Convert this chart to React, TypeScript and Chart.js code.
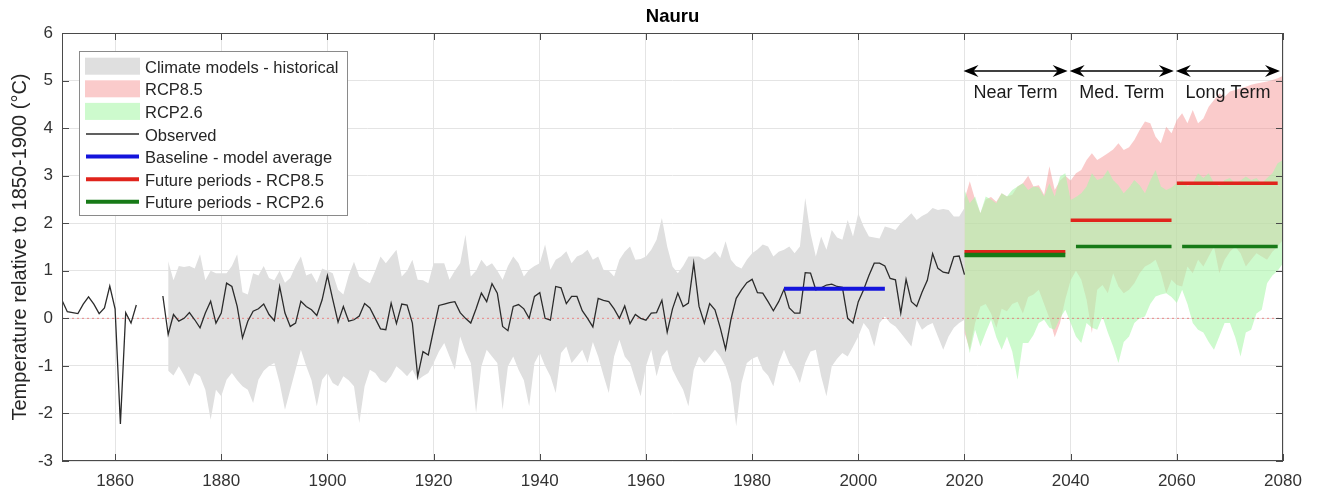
import React, { useEffect, useRef } from "react";
import { Chart, registerables } from "chart.js";

Chart.register(...registerables);

const FONT = '"Liberation Sans", Arial, Helvetica, sans-serif';

// ---------- DATA ----------
const chartTitle = "Nauru";
const yAxisTitle = "Temperature relative to 1850-1900 (°C)";
const xTickValues = [1860, 1880, 1900, 1920, 1940, 1960, 1980, 2000, 2020, 2040, 2060, 2080];
const yTickValues = [-3, -2, -1, 0, 1, 2, 3, 4, 5, 6];

const observedStart = 1850;
const observed = [
  0.38, 0.14, 0.12, 0.10, 0.30, 0.45, 0.30, 0.10, 0.22, 0.68,
  0.20, -2.22, 0.12, -0.10, 0.28, null, null, null, null, 0.47,
  -0.34, 0.08, -0.06, 0.00, 0.12, -0.03, -0.20, 0.11, 0.36, -0.10,
  0.11, 0.74, 0.67, 0.25, -0.41, -0.06, 0.15, 0.20, 0.30, 0.08,
  -0.05, 0.67, 0.11, -0.17, -0.10, 0.36, 0.25, 0.18, 0.06, 0.39,
  0.90, 0.40, -0.08, 0.25, -0.06, -0.03, 0.05, 0.31, 0.22, 0.00,
  -0.22, -0.24, 0.32, -0.11, 0.30, 0.28, -0.10, -1.22, -0.70, -0.77,
  -0.24, 0.27, 0.30, 0.33, 0.35, 0.12, 0.00, -0.10, 0.20, 0.53,
  0.35, 0.73, 0.53, -0.17, -0.26, 0.25, 0.29, 0.20, 0.00, 0.46,
  0.54, 0.00, -0.04, 0.67, 0.64, 0.31, 0.46, 0.46, 0.16, 0.00,
  -0.18, 0.42, 0.38, 0.35, 0.20, 0.00, 0.26, -0.11, 0.08, 0.00,
  -0.04, 0.11, 0.12, 0.38, -0.29, 0.20, 0.53, 0.25, 0.32, 1.16,
  0.25, -0.10, 0.31, 0.18, -0.20, -0.65, -0.03, 0.42, 0.60, 0.75,
  0.82, 0.54, 0.53, 0.35, 0.16, 0.35, 0.61, 0.22, 0.11, 0.11,
  0.96, 0.95, 0.60, 0.64, 0.70, 0.72, 0.67, 0.65, 0.00, -0.10,
  0.35, 0.60, 0.90, 1.16, 1.16, 1.10, 0.84, 0.81, 0.11, 0.82,
  0.35, 0.25, 0.55, 0.80, 1.36, 1.05, 0.97, 0.95, 1.30, 1.31,
  0.92,
];

const histStart = 1870;
const histUpper = [
  1.20, 0.80, 1.10, 1.08, 1.10, 1.05, 1.35, 0.80, 1.00, 0.95,
  0.95, 0.95, 1.10, 1.35, 0.55, 0.50, 0.95, 0.90, 1.10, 0.85,
  0.80, 1.00, 0.75, 0.85, 1.10, 1.30, 0.90, 0.95, 0.75, 1.05,
  1.00, 0.95, 0.60, 0.50, 0.90, 1.19, 0.88, 0.80, 0.74, 1.00,
  1.30, 1.16, 1.30, 1.44, 0.88, 1.00, 1.23, 0.81, 0.80, 0.74,
  1.16, 1.16, 1.16, 0.81, 1.00, 1.16, 1.76, 0.88, 1.00, 1.23,
  1.09, 1.16, 1.00, 0.81, 1.10, 1.30, 1.16, 0.88, 1.02, 1.10,
  1.16, 1.55, 1.02, 1.23, 1.30, 1.41, 1.16, 1.30, 1.35, 1.44,
  1.23, 1.30, 1.02, 1.00, 0.88, 1.23, 1.40, 1.51, 1.23, 1.25,
  1.30, 1.44, 1.65, 2.11, 1.51, 1.09, 0.95, 1.10, 1.30, 1.30,
  1.30, 1.23, 1.30, 1.41, 1.27, 1.62, 1.23, 1.10, 1.05, 1.23,
  1.37, 1.45, 1.55, 1.51, 1.30, 1.40, 1.44, 1.51, 1.37, 1.51,
  2.53, 1.79, 1.30, 1.72, 1.44, 1.86, 1.70, 1.65, 2.07, 1.72,
  2.21, 1.93, 1.72, 1.70, 1.68, 1.93, 1.90, 1.86, 2.00, 2.10,
  2.21, 2.07, 2.15, 2.21, 2.32, 2.28, 2.30, 2.28, 2.14, 2.14,
  2.32,
];
const histLower = [
  -1.10, -1.20, -1.01, -1.20, -1.43, -1.15, -1.22, -1.50, -2.13, -1.50,
  -1.64, -1.29, -1.15, -1.30, -1.43, -1.50, -1.78, -1.29, -1.10, -1.00,
  -0.94, -1.36, -1.92, -1.50, -1.08, -0.66, -1.00, -1.30, -1.85, -1.29,
  -1.15, -1.36, -1.43, -1.22, -1.30, -1.43, -2.20, -1.43, -1.08, -1.15,
  -1.30, -1.36, -1.22, -1.01, -1.10, -1.22, -1.08, -1.30, -1.22, -1.15,
  -0.94, -0.70, -0.52, -0.80, -1.08, -0.38, -0.70, -0.94, -1.99, -1.01,
  -0.66, -0.80, -0.94, -1.92, -1.01, -0.80, -1.08, -1.30, -1.85, -0.94,
  -0.73, -1.00, -1.22, -1.57, -0.73, -0.59, -0.94, -0.80, -0.66, -0.94,
  -0.50, -0.80, -1.20, -1.57, -0.80, -0.45, -0.80, -0.94, -1.30, -1.64,
  -1.01, -0.66, -1.22, -0.80, -0.66, -1.08, -1.30, -1.50, -1.85, -1.08,
  -0.80, -0.94, -0.80, -0.66, -0.80, -1.01, -1.36, -2.27, -1.36, -0.94,
  -0.85, -0.80, -1.08, -1.20, -1.43, -0.94, -0.66, -0.94, -1.10, -1.36,
  -0.94, -0.70, -0.66, -1.22, -1.64, -1.01, -0.85, -0.73, -0.80, -0.60,
  -0.38, -0.10, -0.24, -0.59, -0.10, 0.04, -0.10, -0.17, -0.31, -0.45,
  -0.59, -0.03, -0.24, -0.15, -0.10, -0.38, -0.66, -0.38, -0.20, -0.10,
  -0.03,
];

const futureStart = 2020;
const rcp85Upper = [
  2.50, 2.88, 2.50, 2.21, 2.50, 2.55, 2.45, 2.63, 2.56, 2.60,
  2.77, 2.84, 3.00, 2.77, 2.80, 2.60, 3.20, 2.70, 2.90, 3.00,
  2.90, 3.05, 3.12, 3.33, 3.47, 3.33, 3.40, 3.47, 3.55, 3.68,
  3.54, 3.60, 3.75, 3.96, 4.14, 4.10, 3.82, 3.68, 4.03, 3.89,
  4.17, 4.31, 4.10, 4.38, 4.10, 4.20, 4.45, 4.59, 4.73, 4.66,
  4.77, 4.80, 4.84, 4.87, 4.91, 4.94, 4.96, 4.98, 5.01, 5.05,
  5.10,
];
const rcp85Lower = [
  -0.30, -0.66, -0.10, 0.25, 0.30, 0.10, -0.20, 0.20, 0.15, 0.30,
  0.35, 0.10, 0.45, 0.50, 0.60, 0.30, 0.00, -0.40, -0.10, 0.40,
  0.80, 1.00, 0.81, 0.39, -0.31, 0.60, 0.70, 0.53, 0.95, 0.67,
  0.53, 0.60, 0.74, 0.95, 1.09, 1.15, 1.23, 0.95, 0.53, 0.81,
  0.70, 0.67, 1.09, 0.95, 1.23, 1.09, 1.30, 1.51, 0.95, 1.23,
  1.40, 1.51, 1.37, 1.09, 1.23, 1.37, 1.30, 1.23, 1.40, 1.51,
  1.65,
];
const rcp26Upper = [
  2.70, 2.42, 2.56, 2.21, 2.56, 2.50, 2.42, 2.63, 2.56, 2.70,
  2.77, 2.84, 2.70, 2.77, 2.75, 2.56, 2.84, 2.56, 2.98, 3.05,
  2.49, 2.55, 2.63, 2.77, 3.05, 2.91, 2.95, 3.12, 2.91, 2.80,
  2.63, 2.75, 2.91, 2.80, 2.63, 2.90, 3.12, 2.77, 2.70, 2.75,
  2.85, 2.91, 2.77, 2.84, 3.05, 2.95, 3.05, 2.85, 2.77, 2.91,
  2.95, 2.84, 2.90, 2.98, 2.91, 2.95, 2.84, 2.95, 3.05, 3.26,
  3.33,
];
const rcp26Lower = [
  -0.20, -0.73, -0.24, -0.59, -0.30, -0.03, -0.40, -0.66, -0.38, -0.70,
  -1.29, -0.52, -0.52, -0.35, -0.10, -0.03, -0.20, -0.24, 0.00, 0.18,
  -0.10, -0.38, -0.52, -0.10, -0.20, -0.24, 0.04, -0.30, -0.59, -0.94,
  -0.50, -0.38, -0.10, 0.00, 0.04, 0.30, 0.46, 0.50, 0.53, 0.45,
  0.32, 0.60, 0.30, -0.10, -0.24, -0.30, -0.50, -0.66, -0.38, -0.10,
  -0.10, -0.40, -0.80, -0.30, -0.24, 0.10, 0.18, 0.74, 0.90, 1.00,
  1.16,
];

const baselineStart = 1986;
const baselineEnd = 2005;
const baselineValue = 0.62;

const rcp85PeriodStarts = [2020, 2040, 2060];
const rcp85PeriodEnds = [2039, 2059, 2079];
const rcp85PeriodMeans = [1.4, 2.06, 2.84];
const rcp26PeriodStarts = [2020, 2041, 2061];
const rcp26PeriodEnds = [2039, 2059, 2079];
const rcp26PeriodMeans = [1.33, 1.51, 1.51];

const termLabels = ["Near Term", "Med. Term", "Long Term"];
const termBounds = [2020, 2040, 2060, 2080];
const termArrowValue = 5.2;

const legendLabels = [
  "Climate models - historical",
  "RCP8.5",
  "RCP2.6",
  "Observed",
  "Baseline - model average",
  "Future periods - RCP8.5",
  "Future periods - RCP2.6",
];

// ---------- STYLES ----------
const GRAY = "rgb(223,223,223)";
const PINK = "rgba(245,140,140,0.45)";
const GREEN = "rgba(172,247,172,0.6)";
const OBS = "#2b2b2b";
const BLUE = "#1414dc";
const RED = "#e0241c";
const DGREEN = "#177a17";

const toPoints = (start: number, vals: (number | null)[]) =>
  vals.map((v, i) => ({ x: start + i, y: v }));

const legendStyles = [
  { type: "patch", color: GRAY },
  { type: "patch", color: PINK },
  { type: "patch", color: GREEN },
  { type: "line", color: OBS, width: 1.4 },
  { type: "line", color: BLUE, width: 4 },
  { type: "line", color: RED, width: 4 },
  { type: "line", color: DGREEN, width: 4 },
];

const overlayPlugin = {
  id: "overlay",
  afterDraw(chart: any) {
    const ctx = chart.ctx as CanvasRenderingContext2D;
    const a = chart.chartArea;
    const xs = chart.scales.x;
    const ys = chart.scales.y;
    const line = (x1: number, y1: number, x2: number, y2: number) => {
      ctx.beginPath();
      ctx.moveTo(x1, y1);
      ctx.lineTo(x2, y2);
      ctx.stroke();
    };
    ctx.save();

    // frame and inner ticks
    ctx.strokeStyle = "#4a4a4a";
    ctx.lineWidth = 1;
    ctx.strokeRect(a.left + 0.5, a.top + 0.5, a.right - a.left - 1, a.bottom - a.top - 1);
    for (const t of xTickValues) {
      const px = Math.round(xs.getPixelForValue(t)) + 0.5;
      line(px, a.bottom, px, a.bottom - 7);
      line(px, a.top, px, a.top + 7);
    }
    for (const t of yTickValues) {
      const py = Math.round(ys.getPixelForValue(t)) + 0.5;
      line(a.left, py, a.left + 7, py);
      line(a.right, py, a.right - 7, py);
    }

    // term arrows and labels
    const ay = ys.getPixelForValue(termArrowValue);
    ctx.strokeStyle = "#000";
    ctx.fillStyle = "#000";
    ctx.lineWidth = 1.5;
    const head = (tipX: number, dir: number) => {
      ctx.beginPath();
      ctx.moveTo(tipX, ay);
      ctx.lineTo(tipX + dir * 15, ay - 6);
      ctx.lineTo(tipX + dir * 10, ay);
      ctx.lineTo(tipX + dir * 15, ay + 6);
      ctx.closePath();
      ctx.fill();
    };
    for (let i = 0; i < termLabels.length; i++) {
      const x1 = xs.getPixelForValue(termBounds[i]) - 1;
      const x2 = Math.min(xs.getPixelForValue(termBounds[i + 1]) - 3, a.right);
      line(x1 + 6, ay, x2 - 6, ay);
      head(x1, 1);
      head(x2, -1);
      ctx.font = `18px ${FONT}`;
      ctx.textAlign = "center";
      ctx.textBaseline = "alphabetic";
      ctx.fillStyle = "#1a1a1a";
      ctx.fillText(termLabels[i], (x1 + x2) / 2, ay + 27);
      ctx.fillStyle = "#000";
    }

    // legend
    const L = { x: a.left + 17, y: a.top + 18, w: 268, h: 164 };
    ctx.fillStyle = "#fff";
    ctx.fillRect(L.x, L.y, L.w, L.h);
    ctx.strokeStyle = "#8a8a8a";
    ctx.lineWidth = 1;
    ctx.strokeRect(L.x + 0.5, L.y + 0.5, L.w, L.h);
    legendLabels.forEach((label, i) => {
      const base = L.y + 21.7 + i * 22.6;
      const mid = base - 6.5;
      const st: any = legendStyles[i];
      if (st.type === "patch") {
        ctx.fillStyle = st.color;
        ctx.fillRect(L.x + 6, mid - 8.5, 55, 17);
      } else {
        ctx.strokeStyle = st.color;
        ctx.lineWidth = st.width;
        ctx.lineCap = "butt";
        line(L.x + 7, mid, L.x + 60, mid);
      }
      ctx.fillStyle = "#262626";
      ctx.font = `16.5px ${FONT}`;
      ctx.textAlign = "left";
      ctx.textBaseline = "alphabetic";
      ctx.fillText(label, L.x + 66, base);
    });

    // title
    ctx.fillStyle = "#000";
    ctx.font = `bold 18.5px ${FONT}`;
    ctx.textAlign = "center";
    ctx.textBaseline = "middle";
    ctx.fillText(chartTitle, (a.left + a.right) / 2, 17);

    // y axis title
    ctx.save();
    ctx.translate(20, (a.top + a.bottom) / 2);
    ctx.rotate(-Math.PI / 2);
    ctx.fillStyle = "#262626";
    ctx.font = `20px ${FONT}`;
    ctx.textAlign = "center";
    ctx.textBaseline = "middle";
    ctx.fillText(yAxisTitle, 0, 0);
    ctx.restore();

    ctx.restore();
  },
};

function buildConfig(): any {
  const base = { pointRadius: 0, pointHoverRadius: 0, tension: 0, borderCapStyle: "butt" };
  const datasets: any[] = [
    { ...base, label: "histUpper", data: toPoints(histStart, histUpper), borderWidth: 0, backgroundColor: GRAY, fill: "+1", order: 10 },
    { ...base, label: "histLower", data: toPoints(histStart, histLower), borderWidth: 0, fill: false, order: 10 },
    { ...base, label: "rcp85Upper", data: toPoints(futureStart, rcp85Upper), borderWidth: 0, backgroundColor: PINK, fill: "+1", order: 9 },
    { ...base, label: "rcp85Lower", data: toPoints(futureStart, rcp85Lower), borderWidth: 0, fill: false, order: 9 },
    { ...base, label: "rcp26Upper", data: toPoints(futureStart, rcp26Upper), borderWidth: 0, backgroundColor: GREEN, fill: "+1", order: 8 },
    { ...base, label: "rcp26Lower", data: toPoints(futureStart, rcp26Lower), borderWidth: 0, fill: false, order: 8 },
    { ...base, label: "zero", data: [{ x: 1850, y: 0 }, { x: 2080, y: 0 }], borderColor: "rgba(235,110,110,0.8)", borderWidth: 1, borderDash: [2, 3], fill: false, order: 7 },
    { ...base, label: "Observed", data: toPoints(observedStart, observed), borderColor: OBS, borderWidth: 1.3, fill: false, spanGaps: false, order: 5 },
    { ...base, label: "Baseline", data: [{ x: baselineStart, y: baselineValue }, { x: baselineEnd, y: baselineValue }], borderColor: BLUE, borderWidth: 4, fill: false, order: 3 },
  ];
  rcp85PeriodMeans.forEach((m, i) => {
    datasets.push({ ...base, label: "rcp85p" + i, data: [{ x: rcp85PeriodStarts[i], y: m }, { x: rcp85PeriodEnds[i], y: m }], borderColor: RED, borderWidth: 3.5, fill: false, order: 2 });
  });
  rcp26PeriodMeans.forEach((m, i) => {
    datasets.push({ ...base, label: "rcp26p" + i, data: [{ x: rcp26PeriodStarts[i], y: m }, { x: rcp26PeriodEnds[i], y: m }], borderColor: DGREEN, borderWidth: i === 0 ? 4.5 : 3.5, fill: false, order: 1 });
  });

  return {
    type: "line",
    data: { datasets },
    options: {
      animation: false,
      responsive: false,
      devicePixelRatio: 1,
      layout: { padding: { top: 33, right: 34, left: 0, bottom: 0 } },
      plugins: { legend: { display: false }, title: { display: false }, tooltip: { enabled: false } },
      scales: {
        x: {
          type: "linear",
          min: 1850,
          max: 2080,
          afterBuildTicks: (s: any) => {
            s.ticks = xTickValues.map((v) => ({ value: v }));
          },
          afterFit: (s: any) => {
            s.height = 31;
          },
          ticks: {
            autoSkip: false,
            maxRotation: 0,
            padding: 10,
            color: "#333",
            font: { family: FONT, size: 17 },
            callback: (v: any) => String(v),
          },
          grid: { color: "#e4e4e4", drawTicks: false, lineWidth: 1 },
          border: { display: false },
        },
        y: {
          type: "linear",
          min: -3,
          max: 6,
          afterBuildTicks: (s: any) => {
            s.ticks = yTickValues.map((v) => ({ value: v }));
          },
          afterFit: (s: any) => {
            s.width = 62;
          },
          ticks: {
            autoSkip: false,
            padding: 9,
            color: "#333",
            font: { family: FONT, size: 17 },
            callback: (v: any) => String(v),
          },
          grid: { color: "#e4e4e4", drawTicks: false, lineWidth: 1 },
          border: { display: false },
        },
      },
    },
    plugins: [overlayPlugin],
  };
}

export default function App() {
  const ref = useRef<HTMLCanvasElement>(null);
  useEffect(() => {
    if (!ref.current) return;
    const chart = new Chart(ref.current, buildConfig());
    return () => chart.destroy();
  }, []);
  return (
    <div style={{ position: "fixed", left: 0, top: 0, width: 1317, height: 492, background: "#fff" }}>
      <canvas ref={ref} width={1317} height={492} style={{ display: "block", width: 1317, height: 492 }} />
    </div>
  );
}
